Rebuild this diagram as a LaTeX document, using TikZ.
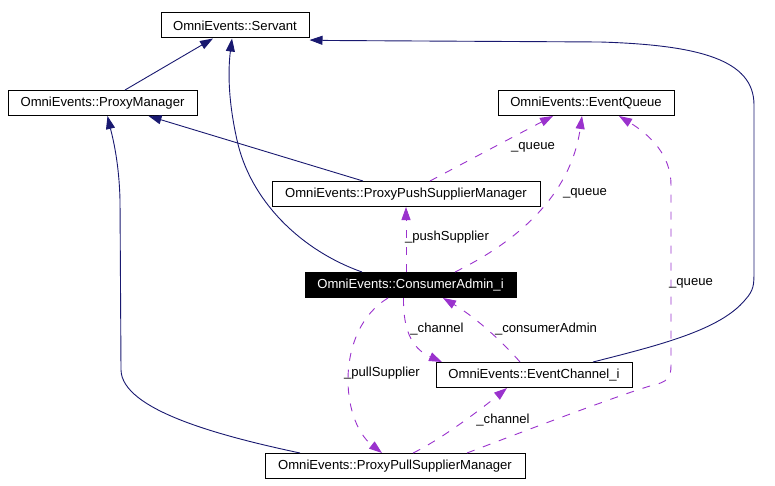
\documentclass[tikz,border=0pt]{standalone}
\usepackage{fontspec}
\setmainfont{Liberation Sans}
\usetikzlibrary{arrows.meta}
\definecolor{inhblue}{RGB}{25,25,112}
\definecolor{usepurple}{RGB}{154,50,205}
\newcommand{\lblfont}{\fontsize{13.1}{15}\selectfont}
\tikzset{
  classbox/.style={draw=black, line width=1pt, minimum height=25pt, inner sep=0pt, font=\lblfont, fill=white},
  inh/.style={draw=inhblue, line width=0.9pt, -{Triangle[length=13pt,width=9pt]}},
  usage/.style={draw=usepurple, line width=0.9pt, dash pattern=on 8pt off 9pt, -{Triangle[length=13pt,width=9pt]}},
  elabel/.style={font=\lblfont, inner sep=0pt, text=black}
}
\begin{document}
\begin{tikzpicture}[x=1pt,y=-1pt]
\useasboundingbox (0,0) rectangle (775,486);
% nodes
\node[classbox, minimum width=148pt] (sv) at (235,25.5) {OmniEvents::Servant};
\node[classbox, minimum width=189pt] (pm) at (102.5,103) {OmniEvents::ProxyManager};
\node[classbox, minimum width=176pt] (eq) at (586,103) {OmniEvents::EventQueue};
\node[classbox, minimum width=268pt] (pps) at (406,194) {OmniEvents::ProxyPushSupplierManager};
\node[classbox, minimum width=211pt, fill=black, text=white] (ca) at (410.5,285) {OmniEvents::ConsumerAdmin\_i};
\node[classbox, minimum width=196pt] (ec) at (534,375) {OmniEvents::EventChannel\_i};
\node[classbox, minimum width=260pt] (ppull) at (395,466) {OmniEvents::ProxyPullSupplierManager};
% inheritance
\draw[inh] ([xshift=22.5pt]pm.north) -- ([xshift=-22pt]sv.south);
\draw[inh] ([xshift=-48.5pt]ca.north) .. controls (300,250) and (250,200) .. (237,140) .. controls (228,100) and (228,70) .. ([xshift=-3pt]sv.south);
\draw[inh] ([xshift=-43pt]pps.north) -- ([xshift=46pt]pm.south);
\draw[inh] ([xshift=-95pt]ppull.north) .. controls (220,436) and (122,410) .. (121,370) -- (120,200) .. controls (119,160) and (112,135) .. ([xshift=5pt]pm.south);
\draw[inh] ([xshift=59pt]ec.north) .. controls (660,345) and (720,330) .. (745,300) .. controls (754,290) and (754,285) .. (754,270) -- (754,105) .. controls (754,60) and (700,45) .. (600,42) -- (330,40.5) -- ([yshift=-1.5pt]sv.south east);
% usage
\draw[usage] ([xshift=24pt]pps.north) .. controls (460,165) and (530,128) .. ([xshift=-33pt]eq.south);
\node[elabel] (l1) at (533,147) {\_queue};
\draw[usage] ([xshift=44.5pt]ca.north) .. controls (510,245) and (570,200) .. ([xshift=-4pt]eq.south);
\node[elabel] (l2) at (585,193) {\_queue};
\draw[usage] ([xshift=72pt]ppull.north) .. controls (540,425) and (620,395) .. (650,386) .. controls (668,382) and (671,378) .. (671,365) -- (671,185) .. controls (671,155) and (650,135) .. ([xshift=33pt]eq.south);
\node[elabel] (l3) at (691,283) {\_queue};
\draw[usage] ([xshift=-4.5pt]ca.north) -- (pps.south);
\node[elabel] (l4) at (447,237) {\_pushSupplier};
\draw[usage] ([xshift=-7pt]ca.south) .. controls (403,335) and (415,350) .. ([xshift=-92pt]ec.north);
\node[elabel] (l5) at (437,329) {\_channel};
\draw[usage] ([xshift=-14pt]ec.north) .. controls (508,348) and (480,320) .. ([xshift=32.5pt]ca.south);
\node[elabel] (l6) at (546,329) {\_consumerAdmin};
\draw[usage] ([xshift=-22.5pt]ca.south) .. controls (335,330) and (340,420) .. ([xshift=-13pt]ppull.north);
\node[elabel] (l7) at (382,373) {\_pullSupplier};
\draw[usage] ([xshift=18pt]ppull.north) .. controls (440,440) and (480,410) .. ([xshift=-27pt]ec.south);
\node[elabel] (l8) at (503,420) {\_channel};
\end{tikzpicture}
\end{document}
